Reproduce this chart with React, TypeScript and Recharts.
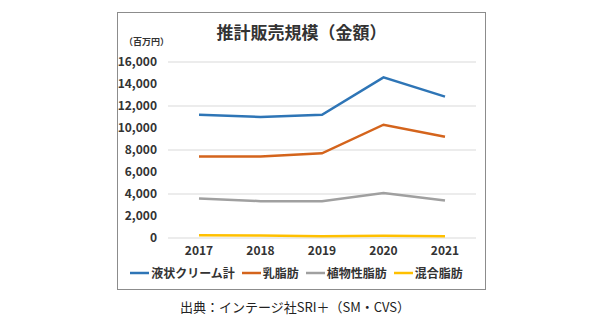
import React from "react";
import {
  LineChart,
  Line,
  XAxis,
  YAxis,
  CartesianGrid,
  Legend,
} from "recharts";

const years = ["2017", "2018", "2019", "2020", "2021"];
const liquidCream = [11200, 11000, 11200, 14600, 12850];
const milkFat = [7400, 7400, 7700, 10300, 9200];
const vegetableFat = [3600, 3350, 3350, 4100, 3400];
const mixedFat = [250, 230, 150, 200, 150];
const yTicks = [0, 2000, 4000, 6000, 8000, 10000, 12000, 14000, 16000];

const series = [
  { key: "liquid", name: "液状クリーム計", color: "#2e75b6" },
  { key: "milk", name: "乳脂肪", color: "#d4641c" },
  { key: "veg", name: "植物性脂肪", color: "#a0a0a0" },
  { key: "mixed", name: "混合脂肪", color: "#ffc000" },
];

const data = years.map((year, i) => ({
  year,
  liquid: liquidCream[i],
  milk: milkFat[i],
  veg: vegetableFat[i],
  mixed: mixedFat[i],
}));

const FONT = "'Noto Sans CJK JP', 'Noto Sans', sans-serif";

function LegendRow() {
  return (
    <div
      style={{
        display: "flex",
        justifyContent: "center",
        alignItems: "center",
        gap: 7,
        fontFamily: FONT,
        fontSize: 12,
        fontWeight: 700,
        color: "#333",
      }}
    >
      {series.map((s) => (
        <span key={s.key} style={{ display: "flex", alignItems: "center" }}>
          <svg width={19} height={4} style={{ marginRight: 2 }}>
            <line x1={0} y1={2} x2={19} y2={2} stroke={s.color} strokeWidth={2.5} />
          </svg>
          {s.name}
        </span>
      ))}
    </div>
  );
}

export default function App() {
  return (
    <div
      style={{
        position: "absolute",
        left: 0,
        top: 0,
        width: 590,
        height: 334,
        background: "#fff",
        fontFamily: FONT,
      }}
    >
      <div
        style={{
          position: "absolute",
          left: 117,
          top: 12,
          width: 367,
          height: 276,
          border: "1px solid #8c8c8c",
        }}
      />
      <div
        style={{
          position: "absolute",
          left: 117,
          top: 19,
          width: 369,
          textAlign: "center",
          fontSize: 17,
          fontWeight: 700,
          color: "#333",
        }}
      >
        推計販売規模（金額）
      </div>
      <div
        style={{
          position: "absolute",
          left: 124,
          top: 35,
          fontSize: 9,
          fontWeight: 700,
          color: "#333",
        }}
      >
        （百万円）
      </div>
      <div style={{ position: "absolute", left: 117, top: 12 }}>
        <LineChart
          width={369}
          height={278}
          data={data}
          margin={{ top: 50, right: 10, bottom: 4, left: 0 }}
        >
          <CartesianGrid vertical={false} stroke="#d9d9d9" />
          <XAxis
            dataKey="year"
            axisLine={false}
            tickLine={false}
            height={26}
            padding={{ left: 31, right: 31 }}
            tick={{ fontSize: 12, fontWeight: 700, fill: "#333", fontFamily: FONT }}
          />
          <YAxis
            width={51}
            domain={[0, 16000]}
            ticks={yTicks}
            axisLine={false}
            tickLine={false}
            tickMargin={5}
            tickFormatter={(v: number) => v.toLocaleString("en-US")}
            tick={{ fontSize: 12, fontWeight: 700, fill: "#333", fontFamily: FONT }}
          />
          <Legend verticalAlign="bottom" height={22} content={() => <LegendRow />} />
          {series.map((s) => (
            <Line
              key={s.key}
              dataKey={s.key}
              name={s.name}
              stroke={s.color}
              strokeWidth={2.5}
              dot={false}
              isAnimationActive={false}
            />
          ))}
        </LineChart>
      </div>
      <div
        style={{
          position: "absolute",
          left: 0,
          top: 297,
          width: 590,
          textAlign: "center",
          fontSize: 13,
          color: "#222",
        }}
      >
        出典：インテージ社SRI＋（SM・CVS）
      </div>
    </div>
  );
}
